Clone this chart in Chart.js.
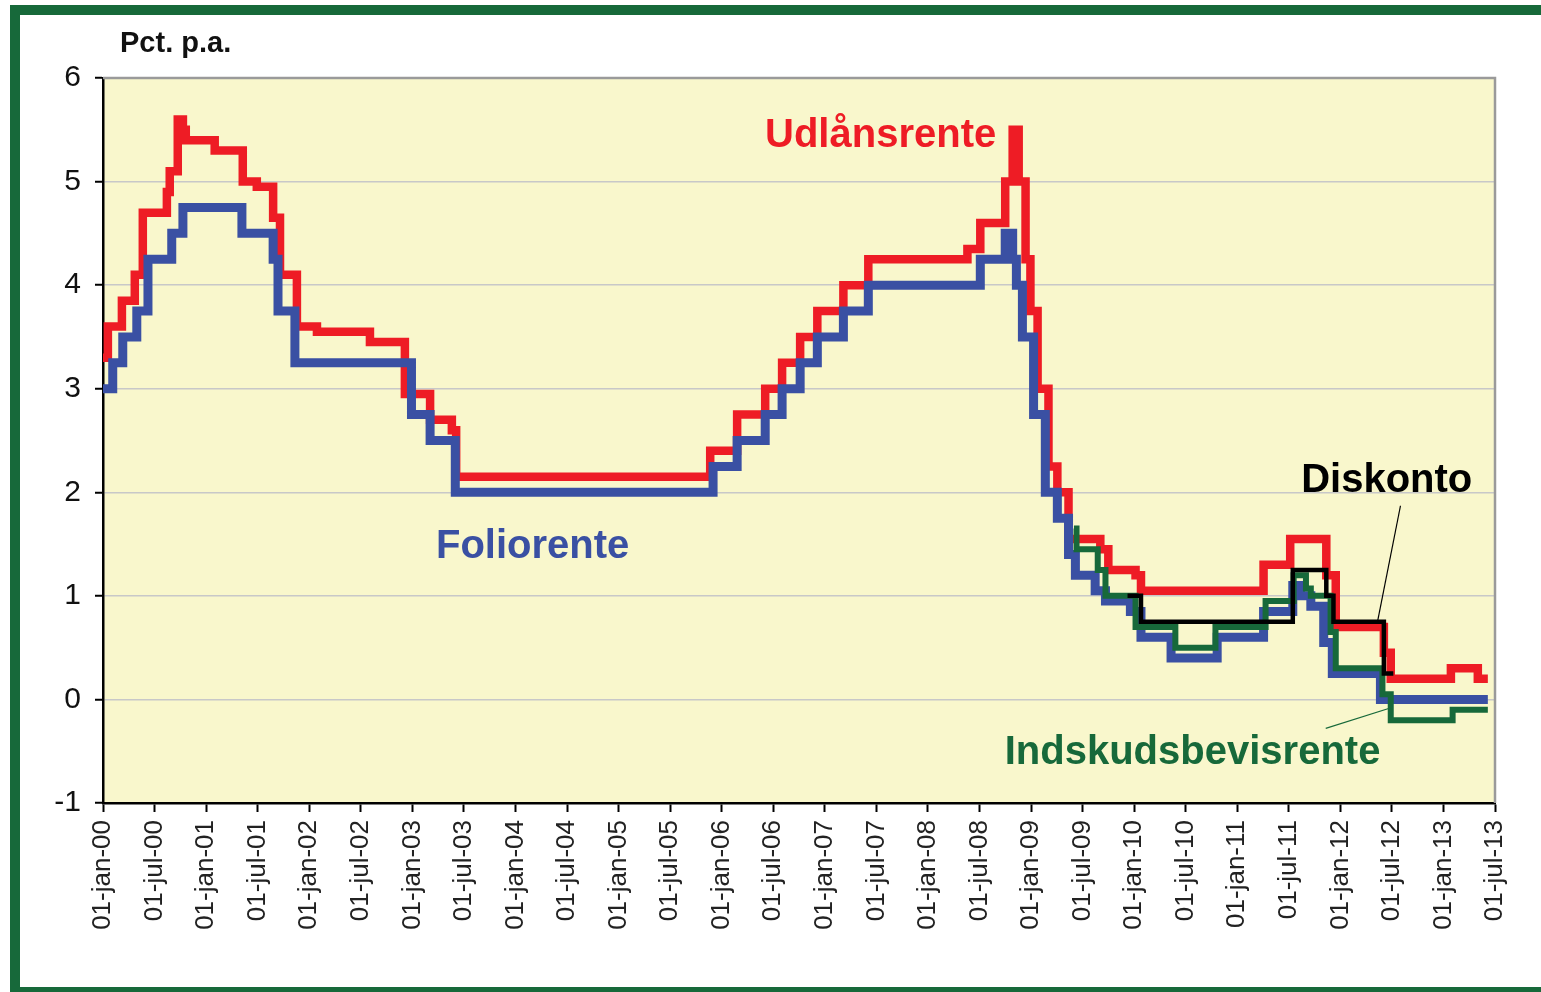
<!DOCTYPE html>
<html>
<head>
<meta charset="utf-8">
<script src="https://cdn.jsdelivr.net/npm/chart.js@4.4.1/dist/chart.umd.min.js"></script>
<style>
    body { margin: 0; width: 1541px; height: 992px; overflow: hidden; background: #fff; position: relative; }
    .frame { position: absolute; left: 10px; top: 5px; width: 1600px; height: 992px; border: 10px solid #17693a; box-sizing: border-box; background: #fff; }
    #rates { position: absolute; left: 0; top: 0; }
</style>
</head>
<body>
<div class="frame"></div>
<canvas id="rates" width="1541" height="992"></canvas>
<script>
// tick labels on the x axis, one per half year
const tickLabels = ["01-jan-00", "01-jul-00", "01-jan-01", "01-jul-01", "01-jan-02", "01-jul-02",
    "01-jan-03", "01-jul-03", "01-jan-04", "01-jul-04", "01-jan-05", "01-jul-05",
    "01-jan-06", "01-jul-06", "01-jan-07", "01-jul-07", "01-jan-08", "01-jul-08",
    "01-jan-09", "01-jul-09", "01-jan-10", "01-jul-10", "01-jan-11", "01-jul-11",
    "01-jan-12", "01-jul-12", "01-jan-13", "01-jul-13"];

// each date starts a new rate level (step series)
const udlanDates = ["2000-01-01", "2000-01-18", "2000-03-07", "2000-04-22", "2000-05-20", "2000-08-14", "2000-08-24",
    "2000-09-22", "2000-10-10", "2000-10-20", "2001-02-01", "2001-05-09", "2001-06-28", "2001-08-25", "2001-09-19",
    "2001-11-18", "2002-01-28", "2002-08-03", "2002-12-05", "2003-03-03", "2003-05-19", "2003-06-04", "2005-11-21",
    "2006-02-25", "2006-06-03", "2006-08-02", "2006-10-05", "2006-12-05", "2007-03-06", "2007-06-03", "2008-05-19",
    "2008-07-04", "2008-10-01", "2008-10-27", "2008-11-18", "2008-12-12", "2008-12-29", "2009-01-24", "2009-03-02",
    "2009-04-03", "2009-05-12", "2009-09-03", "2009-10-01", "2010-01-06", "2010-01-25", "2011-04-03", "2011-07-06",
    "2011-11-12", "2011-12-15", "2012-06-03", "2012-06-27", "2013-01-27", "2013-05-01", "2013-06-06"];
const udlanValues = [3.3, 3.6, 3.85, 4.1, 4.7, 4.9, 5.1, 5.6, 5.5, 5.4, 5.3, 5.0, 4.95, 4.65, 4.1, 3.6, 3.55, 3.45,
    2.95, 2.7, 2.6, 2.15, 2.4, 2.75, 3.0, 3.25, 3.5, 3.75, 4.0, 4.25, 4.35, 4.6, 5.0, 5.5, 5.0, 4.25, 3.75, 3.0,
    2.25, 2.0, 1.55, 1.45, 1.25, 1.2, 1.05, 1.3, 1.55, 1.2, 0.7, 0.45, 0.2, 0.3, 0.2, 0.2];

const folioDates = ["2000-01-01", "2000-02-05", "2000-03-10", "2000-04-29", "2000-06-08", "2000-09-01", "2000-10-10",
    "2001-05-06", "2001-08-25", "2001-09-12", "2001-11-11", "2002-12-28", "2003-03-03", "2003-06-01", "2005-12-01",
    "2006-02-25", "2006-06-03", "2006-08-02", "2006-10-05", "2006-12-05", "2007-03-06", "2007-06-03", "2008-07-04",
    "2008-10-01", "2008-10-27", "2008-11-10", "2008-12-01", "2009-01-10", "2009-02-21", "2009-04-03", "2009-05-12",
    "2009-06-06", "2009-08-15", "2009-09-21", "2009-12-18", "2010-01-25", "2010-05-10", "2010-10-21", "2011-04-03",
    "2011-07-15", "2011-08-12", "2011-09-18", "2011-11-03", "2011-12-03", "2012-05-21", "2013-06-06"];
const folioValues = [3.0, 3.25, 3.5, 3.75, 4.25, 4.5, 4.75, 4.5, 4.25, 3.75, 3.25, 2.75, 2.5, 2.0, 2.25, 2.5, 2.75,
    3.0, 3.25, 3.5, 3.75, 4.0, 4.25, 4.5, 4.25, 4.0, 3.5, 2.75, 2.0, 1.75, 1.4, 1.2, 1.05, 0.95, 0.85, 0.6, 0.4, 0.6,
    0.85, 1.1, 1.0, 0.9, 0.55, 0.25, 0.0, 0.0];

const indskudDates = ["2009-06-01", "2009-06-10", "2009-08-24", "2009-09-21", "2010-01-06", "2010-05-25", "2010-10-15",
    "2011-04-10", "2011-07-18", "2011-09-01", "2011-09-18", "2011-11-27", "2011-12-15", "2012-05-28", "2012-06-27",
    "2013-02-03", "2013-06-06"];
const indskudValues = [1.65, 1.45, 1.25, 1.0, 0.7, 0.5, 0.7, 0.95, 1.2, 1.07, 1.0, 0.65, 0.3, 0.05, -0.2, -0.1, -0.1];

const diskontoDates = ["2009-12-08", "2010-01-25", "2011-07-15", "2011-11-12", "2011-12-07", "2012-06-03", "2012-07-06"];
const diskontoValues = [1.0, 0.75, 1.25, 1.0, 0.75, 0.25, 0.25];

const FONT = "'Liberation Sans', Arial, sans-serif";

// months since 1 jan 2000
function monthIndex(d) {
    const [y, m, day] = d.split("-").map(Number);
    return (y - 2000) * 12 + (m - 1) + (day - 1) / 30;
}

function toPoints(dates, values) {
    return dates.map((d, i) => ({ x: monthIndex(d), y: values[i] }));
}

// labels placed in data coordinates
const seriesLabels = [
    { text: "Udlånsrente", x: 90.5, y: 5.44, color: "#ee1c25" },
    { text: "Foliorente", x: 50, y: 1.47, color: "#3a50a3" },
    { text: "Diskonto", x: 149.4, y: 2.11, color: "#000000" },
    { text: "Indskudsbevisrente", x: 126.8, y: -0.52, color: "#17693a" }
];
const leaders = [
    { from: [151.0, 1.87], to: [148.3, 0.74], color: "#000000" },
    { from: [142.3, -0.28], to: [149.9, -0.08], color: "#17693a" }
];

const plotDecor = {
    id: "plotDecor",
    beforeDraw(chart) {
        const { ctx, chartArea: a } = chart;
        ctx.save();
        ctx.fillStyle = "#f9f7cc";
        ctx.fillRect(a.left, a.top, a.right - a.left, a.bottom - a.top);
        ctx.restore();
    },
    afterDatasetsDraw(chart) {
        const { ctx, chartArea: a, scales } = chart;
        const xs = scales.x, ys = scales.y;
        ctx.save();
        // grey frame top and right
        ctx.strokeStyle = "#9a9a9a";
        ctx.lineWidth = 2.5;
        ctx.beginPath();
        ctx.moveTo(a.left, a.top);
        ctx.lineTo(a.right, a.top);
        ctx.lineTo(a.right, a.bottom);
        ctx.stroke();

        leaders.forEach(l => {
            ctx.strokeStyle = l.color;
            ctx.lineWidth = 1.2;
            ctx.beginPath();
            ctx.moveTo(xs.getPixelForValue(l.from[0]), ys.getPixelForValue(l.from[1]));
            ctx.lineTo(xs.getPixelForValue(l.to[0]), ys.getPixelForValue(l.to[1]));
            ctx.stroke();
        });

        ctx.font = "bold 40px " + FONT;
        ctx.textAlign = "center";
        ctx.textBaseline = "middle";
        seriesLabels.forEach(s => {
            ctx.fillStyle = s.color;
            ctx.fillText(s.text, xs.getPixelForValue(s.x), ys.getPixelForValue(s.y));
        });

        ctx.fillStyle = "#111";
        ctx.font = "bold 29px " + FONT;
        ctx.textAlign = "left";
        ctx.fillText("Pct. p.a.", a.left + 17, a.top - 34);
        ctx.restore();
    }
};

function lineSet(label, dates, values, color, width) {
    return {
        label: label,
        data: toPoints(dates, values),
        borderColor: color,
        backgroundColor: color,
        borderWidth: width,
        stepped: "before",
        pointRadius: 0,
        fill: false,
        tension: 0
    };
}

new Chart(document.getElementById("rates"), {
    type: "line",
    data: {
        datasets: [
            lineSet("Diskonto", diskontoDates, diskontoValues, "#000000", 4.5),
            lineSet("Indskudsbevisrente", indskudDates, indskudValues, "#17693a", 6),
            lineSet("Foliorente", folioDates, folioValues, "#3a50a3", 9),
            lineSet("Udlånsrente", udlanDates, udlanValues, "#ee1c25", 8.5)
        ]
    },
    options: {
        responsive: false,
        animation: false,
        layout: { padding: { top: 78, right: 46, left: 0, bottom: 0 } },
        plugins: {
            legend: { display: false },
            tooltip: { enabled: false }
        },
        scales: {
            x: {
                type: "linear",
                min: 0,
                max: 162,
                afterBuildTicks: scale => {
                    scale.ticks = tickLabels.map((t, i) => ({ value: i * 6 }));
                },
                afterFit: scale => { scale.height = 189; },
                ticks: {
                    autoSkip: false,
                    minRotation: 90,
                    maxRotation: 90,
                    padding: 8,
                    color: "#222",
                    font: { family: FONT, size: 26 },
                    callback: (v) => tickLabels[Math.round(v / 6)]
                },
                grid: {
                    drawOnChartArea: false,
                    tickLength: 9,
                    tickColor: "#000",
                    tickWidth: 2
                },
                border: { display: true, color: "#000", width: 2.5 }
            },
            y: {
                min: -1,
                max: 6,
                afterFit: scale => { scale.width = 103; },
                ticks: {
                    stepSize: 1,
                    padding: 14,
                    color: "#111",
                    font: { family: FONT, size: 30 }
                },
                grid: {
                    color: "#c8c8c8",
                    lineWidth: 1.5,
                    tickLength: 8,
                    tickColor: "#000",
                    tickWidth: 2
                },
                border: { display: true, color: "#000", width: 2.5 }
            }
        }
    },
    plugins: [plotDecor]
});
</script>
</body>
</html>
